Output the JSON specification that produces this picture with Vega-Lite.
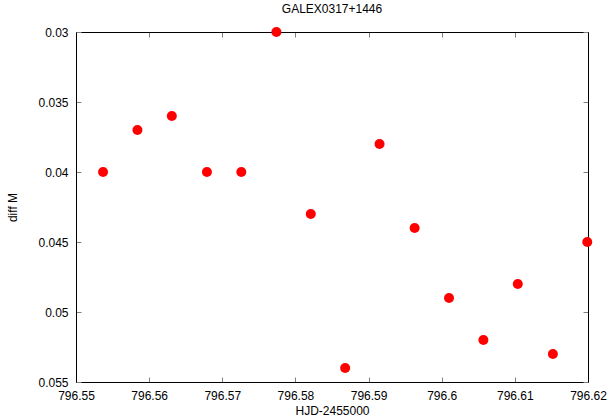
{
  "$schema": "https://vega.github.io/schema/vega-lite/v6.json",
  "width": 512,
  "height": 350,
  "autosize": "none",
  "padding": {"left": 76, "top": 32, "right": 20, "bottom": 37},
  "background": "white",
  "config": {
    "view": {"stroke": null},
    "font": "Liberation Sans",
    "axis": {"grid": false, "labelFlush": false, "labelOverlap": false, "domainColor": "black", "tickColor": "#808080", "labelColor": "black", "titleColor": "black", "labelFont": "Liberation Sans", "titleFont": "Liberation Sans", "labelFontSize": 12, "titleFontSize": 12, "titleFontWeight": "normal", "tickSize": -5, "domainWidth": 1, "tickWidth": 1}
  },
  "title": {"text": "GALEX0317+1446", "fontSize": 12, "fontWeight": "normal", "font": "Liberation Sans", "color": "black", "offset": 10, "anchor": "middle"},
  "data": {"values": [
    {"hjd": 796.5537, "m": 0.040},
    {"hjd": 796.5584, "m": 0.037},
    {"hjd": 796.5631, "m": 0.036},
    {"hjd": 796.5679, "m": 0.040},
    {"hjd": 796.5726, "m": 0.040},
    {"hjd": 796.5774, "m": 0.030},
    {"hjd": 796.5821, "m": 0.043},
    {"hjd": 796.5868, "m": 0.054},
    {"hjd": 796.5915, "m": 0.038},
    {"hjd": 796.5963, "m": 0.044},
    {"hjd": 796.6010, "m": 0.049},
    {"hjd": 796.6057, "m": 0.052},
    {"hjd": 796.6104, "m": 0.048},
    {"hjd": 796.6152, "m": 0.053},
    {"hjd": 796.6199, "m": 0.045}
  ]},
  "layer": [
    {
      "mark": {"type": "point", "opacity": 0},
      "encoding": {
        "x": {"field": "hjd", "type": "quantitative", "scale": {"domain": [796.55, 796.62], "nice": false, "zero": false},
              "axis": {"orient": "top", "labels": false, "title": null, "values": [796.55, 796.56, 796.57, 796.58, 796.59, 796.6, 796.61, 796.62]}},
        "y": {"field": "m", "type": "quantitative", "scale": {"domain": [0.03, 0.055], "nice": false, "zero": false, "reverse": true},
              "axis": {"orient": "right", "labels": false, "title": null, "values": [0.03, 0.035, 0.04, 0.045, 0.05, 0.055]}}
      }
    },
    {
      "mark": {"type": "circle", "color": "#ff0000", "opacity": 1, "size": 100},
      "encoding": {
        "x": {"field": "hjd", "type": "quantitative", "scale": {"domain": [796.55, 796.62], "nice": false, "zero": false},
              "axis": {"orient": "bottom", "title": "HJD-2455000", "format": "~f", "labelPadding": 13, "titlePadding": 4, "values": [796.55, 796.56, 796.57, 796.58, 796.59, 796.6, 796.61, 796.62]}},
        "y": {"field": "m", "type": "quantitative", "scale": {"domain": [0.03, 0.055], "nice": false, "zero": false, "reverse": true},
              "axis": {"orient": "left", "title": "diff M", "format": "~f", "labelPadding": 13, "titlePadding": 18, "values": [0.03, 0.035, 0.04, 0.045, 0.05, 0.055]}}
      }
    }
  ],
  "resolve": {"scale": {"x": "independent", "y": "independent"}, "axis": {"x": "independent", "y": "independent"}}
}
